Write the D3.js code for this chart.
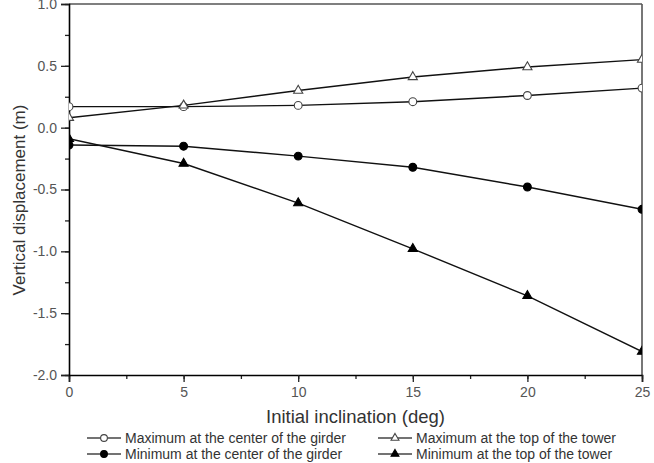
<!DOCTYPE html>
<html>
<head>
<meta charset="utf-8">
<script src="https://cdn.jsdelivr.net/npm/d3@7"></script>
<style>
  body { margin: 0; background: #fff; }
  svg { font-family: "Liberation Sans", Arial, sans-serif; }
</style>
</head>
<body>
<div id="chart"></div>
<script>
// Data
const inclination = [0, 5, 10, 15, 20, 25];
const maxGirder = [0.17, 0.17, 0.18, 0.21, 0.26, 0.32];
const maxTower = [0.08, 0.18, 0.30, 0.41, 0.49, 0.55];
const minGirder = [-0.14, -0.15, -0.23, -0.32, -0.48, -0.66];
const minTower = [-0.09, -0.29, -0.61, -0.98, -1.36, -1.81];
const seriesNames = [
    "Maximum at the center of the girder",
    "Maximum at the top of the tower",
    "Minimum at the center of the girder",
    "Minimum at the top of the tower"
];
const xTicks = [0, 5, 10, 15, 20, 25];
const yTicks = [-2.0, -1.5, -1.0, -0.5, 0.0, 0.5, 1.0];

const width = 654, height = 463;
const margin = { top: 4, right: 12, bottom: 88, left: 69 };

const svg = d3.select("#chart").append("svg")
    .attr("width", width)
    .attr("height", height);

const x = d3.scaleLinear().domain([0, 25]).range([margin.left, width - margin.right]);
const y = d3.scaleLinear().domain([-2, 1]).range([height - margin.bottom, margin.top]);

// series table: values + marker shape + fill
const series = [
    { name: seriesNames[0], values: maxGirder, shape: d3.symbolCircle, filled: false },
    { name: seriesNames[1], values: maxTower, shape: d3.symbolTriangle, filled: false },
    { name: seriesNames[2], values: minGirder, shape: d3.symbolCircle, filled: true },
    { name: seriesNames[3], values: minTower, shape: d3.symbolTriangle, filled: true }
];

function marker(s, scale = 1) {
    const size = s.shape === d3.symbolCircle ? 48 : 36;
    return d3.symbol().type(s.shape).size(size * scale)();
}

// clip data to plot area
svg.append("clipPath").attr("id", "plot-clip")
    .append("rect")
    .attr("x", margin.left)
    .attr("y", margin.top)
    .attr("width", width - margin.left - margin.right)
    .attr("height", height - margin.top - margin.bottom);

// frame: top and right lines
svg.append("line")
    .attr("x1", margin.left).attr("x2", width - margin.right)
    .attr("y1", margin.top).attr("y2", margin.top)
    .attr("stroke", "#555").attr("stroke-width", 1.6);
svg.append("line")
    .attr("x1", width - margin.right).attr("x2", width - margin.right)
    .attr("y1", margin.top).attr("y2", height - margin.bottom)
    .attr("stroke", "#555").attr("stroke-width", 1.6);

const fmtY = d => d3.format(".1f")(d).replace("\u2212", "-");

// minor + major ticks
const gx = svg.append("g")
    .attr("transform", `translate(0,${height - margin.bottom})`);
gx.call(d3.axisBottom(x).tickValues(d3.range(0, 25.1, 2.5)).tickSize(4).tickFormat(""))
    .call(g => g.select(".domain").remove());
gx.append("g")
    .call(d3.axisBottom(x).tickValues(xTicks).tickSize(7).tickPadding(5).tickFormat(d3.format("d")))
    .call(g => g.select(".domain").attr("stroke-width", 1.6));

const gy = svg.append("g")
    .attr("transform", `translate(${margin.left},0)`);
gy.call(d3.axisLeft(y).tickValues(d3.range(-2, 1.01, 0.25)).tickSize(4).tickFormat(""))
    .call(g => g.select(".domain").remove());
gy.append("g")
    .call(d3.axisLeft(y).tickValues(yTicks).tickSize(8).tickPadding(4).tickFormat(fmtY))
    .call(g => g.select(".domain").attr("stroke-width", 1.6));

svg.selectAll(".tick line").attr("stroke", "#222").attr("stroke-width", 1.3);
svg.selectAll(".tick text")
    .attr("font-size", 14)
    .attr("fill", "#555")
    .style("font-family", "'Liberation Sans', Arial, sans-serif");

// axis titles
svg.append("text")
    .attr("x", (margin.left + width - margin.right) / 2)
    .attr("y", 423)
    .attr("text-anchor", "middle")
    .attr("font-size", 18.5)
    .attr("fill", "#333")
    .text("Initial inclination (deg)");

svg.append("text")
    .attr("transform", "translate(25,200) rotate(-90)")
    .attr("text-anchor", "middle")
    .attr("font-size", 17)
    .attr("fill", "#333")
    .text("Vertical displacement (m)");

// lines and markers
const line = d3.line()
    .x((d, i) => x(inclination[i]))
    .y(d => y(d));

const plot = svg.append("g").attr("clip-path", "url(#plot-clip)");

series.forEach(s => {
    plot.append("path")
        .datum(s.values)
        .attr("d", line)
        .attr("fill", "none")
        .attr("stroke", "#111")
        .attr("stroke-width", 1.4);

    plot.selectAll(null)
        .data(s.values)
        .enter().append("path")
        .attr("d", marker(s))
        .attr("transform", (d, i) => `translate(${x(inclination[i])},${y(d)})`)
        .attr("fill", s.filled ? "#000" : "#fff")
        .attr("stroke", s.filled ? "#000" : "#444")
        .attr("stroke-width", 1.1);
});

// legend
const legendCols = [87, 378];
const legendRows = [438, 454];
const legend = svg.append("g");
series.forEach((s, i) => {
    const lx = legendCols[i % 2];
    const ly = legendRows[Math.floor(i / 2)];
    const g = legend.append("g").attr("transform", `translate(${lx},${ly})`);
    g.append("line")
        .attr("x1", 0).attr("x2", 34)
        .attr("stroke", "#444").attr("stroke-width", 1.4);
    g.append("path")
        .attr("d", marker(s, 0.75))
        .attr("transform", "translate(17,0)")
        .attr("fill", s.filled ? "#000" : "#fff")
        .attr("stroke", s.filled ? "#000" : "#444")
        .attr("stroke-width", 1.1);
    g.append("text")
        .attr("x", 38)
        .attr("dy", "0.35em")
        .attr("font-size", 14)
        .attr("fill", "#333")
        .text(s.name);
});
</script>
</body>
</html>
